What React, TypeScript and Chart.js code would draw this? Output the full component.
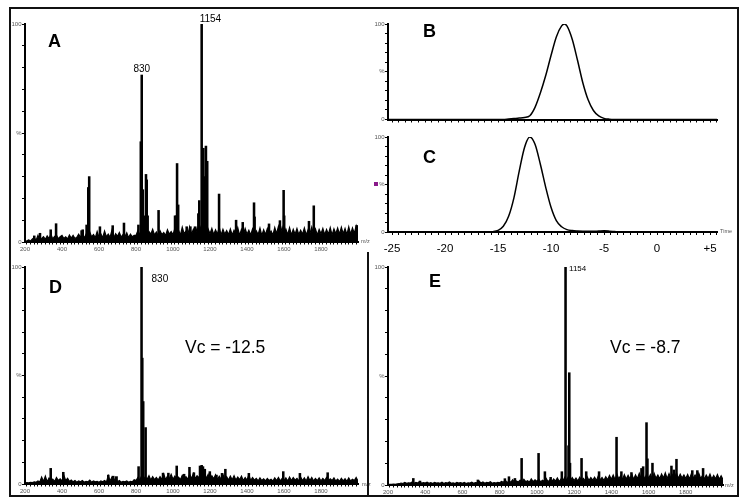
import React, { useEffect, useRef } from 'react';
import { Chart, registerables } from 'chart.js';

Chart.register(...registerables);

const W = 750;
const H = 504;
const FONT = "'Liberation Sans', Arial, Helvetica, sans-serif";

// ---------- m/z spectra (A, D, E) ----------
const MZ_MIN = 200;
const MZ_MAX = 2000;
const NOISE_MZ_START = 200;
const NOISE_MZ_STEP = 10;

// baseline noise, % intensity every 10 m/z from 200 to 2000
const NOISE_A = [
  0.3, 0.6, 1.0, 0.5, 1.4, 2.0, 0.8, 3.0, 1.0, 1.6,
  2.4, 1.2, 2.8, 1.6, 3.6, 1.4, 2.6, 3.2, 1.5, 2.4,
  3.0, 1.6, 2.4, 1.4, 3.2, 1.8, 3.0, 1.6, 2.2, 3.6,
  2.0, 4.2, 1.8, 3.6, 2.2, 4.6, 2.4, 3.4, 2.0, 4.8,
  2.2, 3.8, 2.0, 5.0, 2.4, 3.6, 2.2, 5.4, 2.0, 3.8,
  2.6, 4.4, 2.2, 3.4, 2.4, 4.2, 2.0, 3.6, 2.4, 3.0,
  3.0, 5.2, 3.2, 6.0, 3.4, 5.6, 3.0, 4.8, 3.6, 5.8,
  3.2, 4.6, 3.0, 5.2, 3.4, 4.4, 3.0, 5.6, 3.6, 4.8,
  3.4, 6.2, 3.6, 5.4, 3.2, 6.8, 3.8, 5.0, 3.4, 7.0,
  3.6, 5.8, 3.2, 6.4, 4.0, 6.8, 3.8, 7.6, 3.6, 6.0,
  3.8, 6.2, 3.4, 5.6, 3.6, 6.8, 3.2, 5.8, 3.6, 5.2,
  3.4, 6.0, 3.2, 5.4, 3.8, 6.6, 3.0, 5.8, 3.4, 6.2,
  3.6, 5.4, 3.2, 6.0, 3.8, 5.2, 3.4, 6.4, 3.0, 5.6,
  3.4, 6.2, 3.6, 5.0, 3.2, 6.6, 3.8, 7.2, 3.6, 6.8,
  3.8, 6.0, 3.4, 6.6, 3.2, 5.8, 3.6, 6.2, 3.4, 5.4,
  3.6, 6.4, 3.2, 5.6, 3.8, 6.8, 3.4, 6.0, 3.2, 5.8,
  3.8, 6.2, 3.4, 5.8, 3.6, 6.6, 3.2, 6.0, 3.8, 6.4,
  3.6, 6.8, 3.8, 6.2, 3.4, 7.0, 3.6, 6.4, 4.0, 7.4,
  4.0,
];

const NOISE_D = [
  0.4, 0.6, 0.5, 0.8, 0.7, 1.0, 0.8, 1.4, 0.9, 3.2,
  1.2, 3.6, 1.0, 2.8, 1.4, 2.2, 1.2, 3.0, 1.6, 2.4,
  1.4, 4.0, 1.6, 2.6, 1.2, 1.8, 1.0, 1.6, 0.8, 1.4,
  1.0, 1.6, 0.8, 1.2, 1.0, 1.8, 0.8, 1.4, 1.0, 1.2,
  0.8, 1.4, 1.0, 1.6, 0.9, 3.8, 1.4, 3.2, 1.2, 3.0,
  1.0, 1.6, 0.8, 1.2, 1.0, 1.4, 0.8, 1.2, 1.0, 2.0,
  1.6, 3.0, 1.8, 3.6, 2.0, 3.2, 2.2, 3.8, 1.8, 3.4,
  2.0, 3.0, 1.8, 3.4, 2.2, 4.6, 2.0, 3.6, 2.4, 4.4,
  2.2, 3.6, 2.4, 3.2, 2.0, 4.0, 2.6, 3.4, 2.2, 4.6,
  2.4, 4.8, 2.6, 3.8, 2.8, 5.6, 2.6, 6.0, 2.4, 4.4,
  2.2, 3.8, 2.4, 4.2, 2.0, 3.6, 2.2, 4.4, 2.0, 3.4,
  1.8, 3.6, 2.0, 3.8, 1.8, 3.2, 2.0, 3.6, 1.6, 3.0,
  1.8, 4.2, 1.6, 3.0, 1.8, 2.6, 1.4, 2.8, 1.6, 2.4,
  1.4, 2.6, 1.6, 2.2, 1.4, 2.8, 1.6, 3.0, 1.4, 2.6,
  1.6, 2.8, 1.4, 3.2, 1.6, 3.0, 1.8, 2.6, 1.4, 3.2,
  1.6, 2.8, 1.4, 3.4, 1.6, 3.0, 1.4, 2.6, 1.6, 2.8,
  1.4, 2.6, 1.6, 3.0, 1.4, 2.4, 1.6, 2.8, 1.4, 2.2,
  1.2, 2.6, 1.4, 2.4, 1.2, 2.8, 1.4, 2.2, 1.6, 3.0,
  1.4,
];

const NOISE_E = [
  0.2, 0.3, 0.3, 0.4, 0.3, 0.5, 0.6, 0.9, 0.7, 1.2,
  0.8, 1.0, 0.9, 1.4, 0.8, 1.2, 0.9, 1.6, 0.8, 1.1,
  0.9, 1.3, 0.8, 1.1, 0.7, 1.2, 0.9, 1.0, 0.8, 1.3,
  0.7, 1.1, 0.9, 1.4, 0.8, 1.0, 0.7, 1.2, 0.9, 1.1,
  0.8, 1.2, 0.7, 1.0, 0.9, 1.3, 0.8, 1.1, 1.0, 1.8,
  0.9, 1.4, 0.8, 1.2, 1.0, 1.5, 0.8, 1.1, 0.9, 1.2,
  1.0, 1.6, 1.2, 2.2, 1.1, 1.8, 1.3, 2.4, 1.2, 1.9,
  1.4, 2.2, 1.2, 2.6, 1.5, 2.0, 1.3, 2.8, 1.5, 2.4,
  1.6, 2.6, 1.4, 2.2, 1.7, 3.0, 1.5, 2.4, 1.6, 2.8,
  1.8, 3.2, 1.6, 2.8, 1.9, 3.6, 2.2, 4.0, 2.0, 3.4,
  2.0, 3.2, 1.8, 3.6, 2.2, 3.0, 1.9, 3.8, 2.1, 3.4,
  2.2, 3.6, 2.0, 4.2, 2.3, 3.4, 2.1, 3.8, 2.4, 4.4,
  2.6, 4.6, 2.4, 5.0, 2.8, 4.2, 2.5, 4.8, 2.7, 4.4,
  2.8, 5.0, 2.6, 4.6, 2.9, 5.4, 3.0, 4.8, 2.7, 5.2,
  3.0, 4.8, 2.8, 5.4, 3.1, 4.6, 2.9, 5.0, 3.2, 5.6,
  2.9, 5.2, 3.1, 4.8, 3.3, 5.6, 3.0, 5.0, 3.2, 4.6,
  3.0, 4.8, 2.8, 5.2, 3.1, 4.6, 2.9, 5.4, 3.0, 4.4,
  2.8, 4.6, 3.0, 5.0, 2.7, 4.4, 2.9, 4.8, 2.6, 4.2,
  2.5,
];

// peaks (m/z, % intensity)
const PEAKS_A_MZ = [250, 281, 339, 368, 506, 512, 533, 542, 547, 605, 674, 735, 813, 826, 831, 837, 842, 854, 858, 863, 922, 1011, 1017, 1022, 1028, 1074, 1094, 1119, 1137, 1142, 1155, 1164, 1173, 1178, 1185, 1249, 1341, 1377, 1438, 1441, 1519, 1578, 1598, 1601, 1735, 1761, 1993];
const PEAKS_A_INT = [2.8, 4, 5.6, 8.4, 5.2, 5.6, 7.8, 25, 30, 7, 7.5, 8.7, 7.8, 46, 76.6, 24, 12, 31, 28.5, 12, 14.5, 12, 12, 36, 17, 7, 7, 7, 13, 19, 100, 43, 30, 44, 37, 22, 10, 9, 18, 11.5, 8.3, 9.8, 23.7, 12, 9.5, 16.6, 7.6];

const PEAKS_D_MZ = [339, 407, 650, 677, 695, 814, 830, 834, 839, 852, 946, 975, 1020, 1060, 1089, 1113, 1146, 1155, 1162, 1172, 1199, 1235, 1265, 1283, 1410, 1596, 1686, 1836];
const PEAKS_D_INT = [7.2, 5.4, 4.1, 3.6, 3.4, 8, 100, 58, 38, 26, 5, 5, 8.3, 4.5, 7.7, 5.2, 8.3, 8.6, 8.0, 6.8, 5.7, 4.1, 4.9, 6.8, 4.9, 5.7, 4.9, 5.2];

const PEAKS_E_MZ = [336, 372, 683, 828, 850, 882, 918, 1009, 1043, 1074, 1134, 1154, 1170, 1174, 1178, 1240, 1265, 1334, 1428, 1454, 1508, 1562, 1571, 1589, 1594, 1621, 1723, 1736, 1750, 1835, 1862, 1893];
const PEAKS_E_INT = [3, 1.8, 2.3, 2.9, 3.8, 3, 12.2, 14.5, 6.1, 3.5, 6.1, 100, 18, 51.5, 10, 12.2, 6.1, 6.1, 21.9, 6.1, 5.7, 7.6, 8.4, 28.6, 12, 10, 8.7, 6.9, 11.8, 6.6, 6.6, 7.6];

// ---------- time traces (B, C) ----------
const TIME_MIN = -25.38;
const TIME_MAX = 5.66;
const TIME_TICK_VALUES = [-25, -20, -15, -10, -5, 0, 5];
const TIME_TICK_LABELS = ['-25', '-20', '-15', '-10', '-5', '0', '+5'];

const CURVE_B_T = [-25.4, -14.5, -14, -13.5, -13, -12.5, -12, -11.5, -11, -10.5, -10, -9.5, -9, -8.74, -8.5, -8, -7.5, -7, -6.5, -6, -5.5, -5, -4.5, -4.1, 5.7];
const CURVE_B_I = [0, 0, 0.5, 1, 1.5, 2.2, 4, 13, 28, 46, 67, 86.5, 98, 100, 98, 84, 62, 38.5, 20.6, 9.4, 3.7, 1.2, 0.3, 0, 0];

const CURVE_C_T = [-25.4, -16, -15.5, -15, -14.5, -14, -13.5, -13, -12.5, -12, -11.5, -11, -10.5, -10, -9.5, -9, -8.5, -8, -7.5, -7, -6.5, -6, -5.5, -5, -4.5, -4, -3.6, 5.7];
const CURVE_C_I = [0, 0, 0.4, 1.7, 6, 16.5, 36, 64, 89, 100, 92, 71, 47, 26, 12, 5.5, 2.5, 1.5, 1.1, 0.9, 0.8, 0.8, 1.0, 1.2, 0.9, 0.4, 0, 0];

// ---------- helpers ----------
type Geo = { padL: number; yw: number; t: number; r: number; b: number; xh: number };
type Txt = {
  text: string;
  font: string;
  color?: string;
  align?: CanvasTextAlign;
  baseline?: CanvasTextBaseline;
  at?: [number, number];
  px?: number;
  py?: number;
  dx?: number;
  dy?: number;
};

function textPlugin(items: Txt[]) {
  return {
    id: 'panelTexts',
    afterDraw(chart: any) {
      const ctx: CanvasRenderingContext2D = chart.ctx;
      items.forEach((t) => {
        ctx.save();
        ctx.font = t.font;
        ctx.fillStyle = t.color || '#000';
        ctx.textAlign = t.align || 'left';
        ctx.textBaseline = t.baseline || 'alphabetic';
        let x = t.px || 0;
        let y = t.py || 0;
        if (t.at) {
          x = chart.scales.x.getPixelForValue(t.at[0]);
          y = chart.scales.y.getPixelForValue(t.at[1]);
        }
        ctx.fillText(t.text, x + (t.dx || 0), y + (t.dy || 0));
        ctx.restore();
      });
    },
  };
}

const tickFont = { family: FONT, size: 6 };
const tickColor = '#555';

function yScale(geo: Geo) {
  return {
    min: 0,
    max: 100,
    afterBuildTicks: (s: any) => {
      const v: any[] = [];
      for (let k = 0; k <= 10; k++) v.push({ value: k * 10 });
      s.ticks = v;
    },
    afterFit: (s: any) => {
      s.width = geo.yw;
    },
    ticks: {
      font: tickFont,
      color: tickColor,
      padding: 0.5,
      autoSkip: false,
      callback: (val: any) => (val === 100 ? '100' : val === 50 ? '%' : val === 0 ? '0' : ''),
    },
    grid: { display: true, drawOnChartArea: false, drawTicks: true, tickLength: 3, color: '#000', lineWidth: 1 },
    border: { display: true, color: '#000', width: 2 },
  };
}

function basePadding(geo: Geo) {
  return { left: geo.padL, top: geo.t, right: W - geo.r, bottom: H - geo.b - geo.xh };
}

function spectrumConfig(geo: Geo, noise: number[], pMz: number[], pInt: number[], texts: Txt[]) {
  return {
    type: 'bar',
    data: {
      datasets: [
        {
          type: 'line',
          data: noise.map((v, i) => ({ x: NOISE_MZ_START + i * NOISE_MZ_STEP, y: v })),
          borderColor: '#000',
          backgroundColor: '#000',
          borderWidth: 1.2,
          fill: 'origin',
          pointRadius: 0,
          tension: 0,
          order: 2,
        },
        {
          type: 'bar',
          data: pMz.map((m, i) => ({ x: m, y: pInt[i] })),
          backgroundColor: '#000',
          borderWidth: 0,
          barThickness: 1.9,
          order: 1,
        },
      ],
    },
    options: {
      responsive: false,
      animation: false,
      events: [],
      layout: { padding: basePadding(geo) },
      plugins: { legend: { display: false }, tooltip: { enabled: false }, title: { display: false } },
      scales: {
        x: {
          type: 'linear',
          min: MZ_MIN,
          max: MZ_MAX,
          offset: false,
          afterBuildTicks: (s: any) => {
            const v: any[] = [];
            for (let m = MZ_MIN; m <= MZ_MAX; m += 20) v.push({ value: m });
            s.ticks = v;
          },
          afterFit: (s: any) => {
            s.height = geo.xh;
          },
          ticks: {
            font: tickFont,
            color: tickColor,
            padding: 1,
            autoSkip: false,
            maxRotation: 0,
            minRotation: 0,
            callback: (val: any) => (val % 200 === 0 && val < MZ_MAX ? String(val) : ''),
          },
          grid: { display: true, drawOnChartArea: false, drawTicks: true, tickLength: 2.5, color: '#000', lineWidth: 1 },
          border: { display: true, color: '#000', width: 2 },
        },
        y: yScale(geo),
      },
    },
    plugins: [textPlugin(texts)],
  };
}

function timeConfig(geo: Geo, T: number[], I: number[], showLabels: boolean, texts: Txt[]) {
  return {
    type: 'line',
    data: {
      datasets: [
        {
          data: T.map((t, i) => ({ x: t, y: I[i] })),
          borderColor: '#000',
          borderWidth: 1.5,
          pointRadius: 0,
          cubicInterpolationMode: 'monotone',
          fill: false,
        },
      ],
    },
    options: {
      responsive: false,
      animation: false,
      events: [],
      layout: { padding: basePadding(geo) },
      plugins: { legend: { display: false }, tooltip: { enabled: false }, title: { display: false } },
      scales: {
        x: {
          type: 'linear',
          min: TIME_MIN,
          max: TIME_MAX,
          offset: false,
          afterBuildTicks: (s: any) => {
            const v: any[] = [];
            for (let k = 0; -25 + k * 0.625 <= TIME_MAX; k++) v.push({ value: -25 + k * 0.625 });
            s.ticks = v;
          },
          afterFit: (s: any) => {
            s.height = geo.xh;
          },
          ticks: {
            font: { family: FONT, size: 11.5 },
            color: '#000',
            padding: 7,
            autoSkip: false,
            maxRotation: 0,
            minRotation: 0,
            callback: (val: any) => {
              if (!showLabels) return '';
              const idx = TIME_TICK_VALUES.indexOf(val);
              return idx >= 0 ? TIME_TICK_LABELS[idx] : '';
            },
          },
          grid: { display: true, drawOnChartArea: false, drawTicks: true, tickLength: 3, color: '#000', lineWidth: 1 },
          border: { display: true, color: '#000', width: 2 },
        },
        y: yScale(geo),
      },
    },
    plugins: [textPlugin(texts)],
  };
}

const LETTER = `bold 18px ${FONT}`;
const PEAK_FONT = `10px ${FONT}`;
const VC_FONT = `17.5px ${FONT}`;
const TINY = `5.5px ${FONT}`;

const GEO_A: Geo = { padL: 0, yw: 25, t: 24, r: 358, b: 242, xh: 12 };
const GEO_B: Geo = { padL: 370, yw: 18, t: 24, r: 717, b: 119.5, xh: 4 };
const GEO_C: Geo = { padL: 370, yw: 18, t: 137, r: 717, b: 232, xh: 22 };
const GEO_D: Geo = { padL: 0, yw: 25, t: 267, r: 358, b: 484, xh: 12 };
const GEO_E: Geo = { padL: 370, yw: 18, t: 267, r: 723, b: 485, xh: 12 };

const MAKERS: Array<() => any> = [
  () =>
    spectrumConfig(GEO_A, NOISE_A, PEAKS_A_MZ, PEAKS_A_INT, [
      { text: 'A', font: LETTER, px: 48, py: 47 },
      { text: '830', font: PEAK_FONT, at: [831, 76.6], dy: -3, align: 'center' },
      { text: '1154', font: PEAK_FONT, at: [1155, 100], dx: -2, dy: -2 },
      { text: 'm/z', font: TINY, color: tickColor, px: 361, py: 241, baseline: 'middle' },
    ]),
  () => timeConfig(GEO_B, CURVE_B_T, CURVE_B_I, false, [{ text: 'B', font: LETTER, px: 423, py: 37 }]),
  () =>
    timeConfig(GEO_C, CURVE_C_T, CURVE_C_I, true, [
      { text: 'C', font: LETTER, px: 423, py: 163 },
      { text: 'Time', font: TINY, color: tickColor, px: 720, py: 231.5, baseline: 'middle' },
    ]),
  () =>
    spectrumConfig(GEO_D, NOISE_D, PEAKS_D_MZ, PEAKS_D_INT, [
      { text: 'D', font: LETTER, px: 49, py: 293 },
      { text: '830', font: PEAK_FONT, at: [830, 100], dx: 10, dy: 15 },
      { text: 'Vc = -12.5', font: VC_FONT, px: 185, py: 353 },
      { text: 'm/z', font: TINY, color: tickColor, px: 362, py: 484, baseline: 'middle' },
    ]),
  () =>
    spectrumConfig(GEO_E, NOISE_E, PEAKS_E_MZ, PEAKS_E_INT, [
      { text: 'E', font: LETTER, px: 429, py: 287 },
      { text: '1154', font: `8px ${FONT}`, at: [1154, 100], dx: 3.5, dy: 3.5 },
      { text: 'Vc = -8.7', font: VC_FONT, px: 610, py: 353 },
      { text: 'm/z', font: TINY, color: tickColor, px: 725, py: 485, baseline: 'middle' },
    ]),
];

function ChartLayer({ make }: { make: () => any }) {
  const ref = useRef<HTMLCanvasElement>(null);
  useEffect(() => {
    if (!ref.current) return;
    const chart = new Chart(ref.current, make());
    return () => chart.destroy();
  }, [make]);
  return (
    <canvas
      ref={ref}
      width={W}
      height={H}
      style={{ position: 'absolute', left: 0, top: 0, width: W, height: H }}
    />
  );
}

export default function App() {
  return (
    <div
      style={{
        position: 'absolute',
        left: 0,
        top: 0,
        width: W,
        height: H,
        background: '#fff',
        overflow: 'hidden',
        fontFamily: FONT,
      }}
    >
      {MAKERS.map((mk, i) => (
        <ChartLayer key={i} make={mk} />
      ))}
      <div
        style={{
          position: 'absolute',
          left: 9,
          top: 7,
          width: 730,
          height: 490,
          border: '2px solid #111',
          boxSizing: 'border-box',
          pointerEvents: 'none',
        }}
      />
      <div style={{ position: 'absolute', left: 367, top: 252, width: 2, height: 244, background: '#111' }} />
      <div style={{ position: 'absolute', left: 374, top: 182, width: 3.5, height: 3.5, background: '#8a1a8a' }} />
    </div>
  );
}
